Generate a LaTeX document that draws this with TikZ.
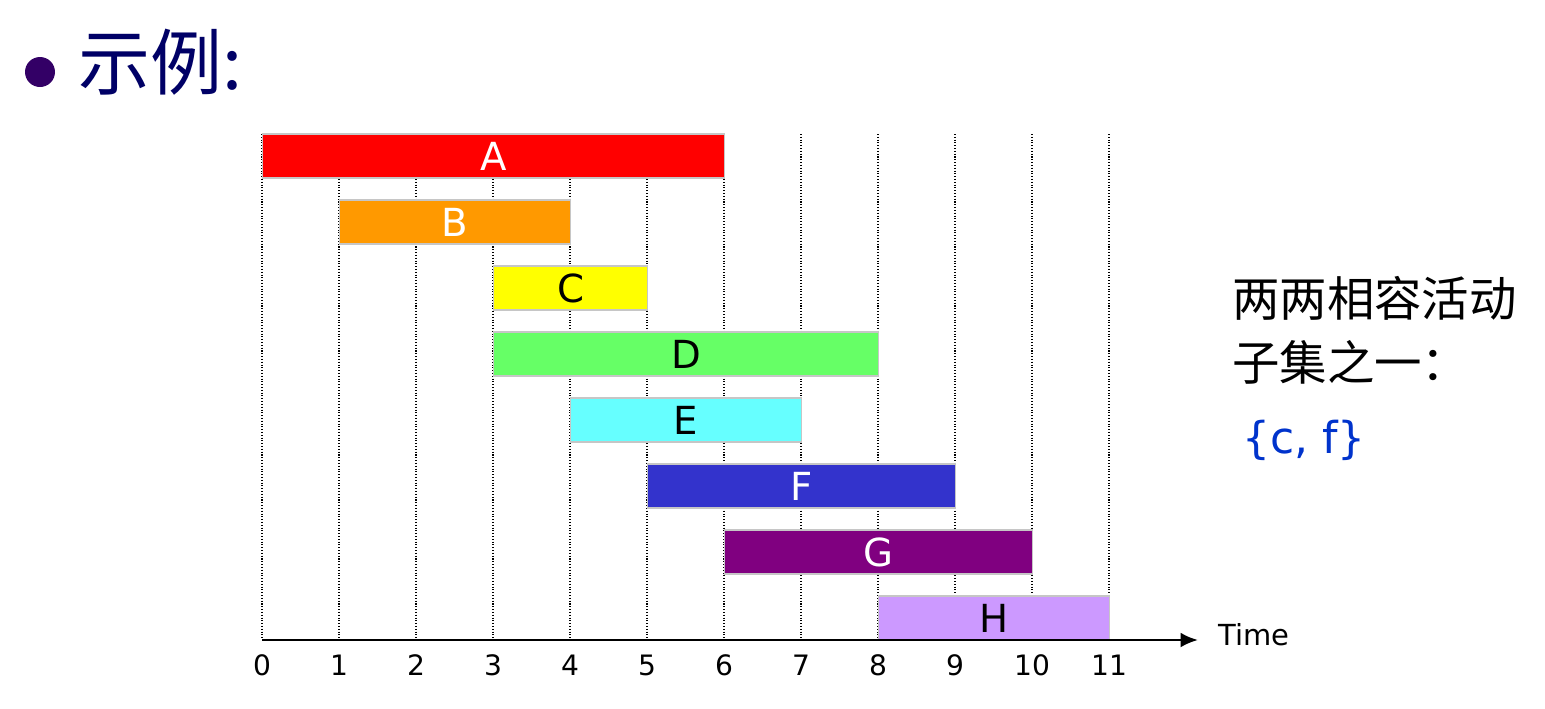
\documentclass[tikz,border=0pt]{standalone}
\usepackage{fontspec}
\setmainfont{DejaVu Sans}
\newfontfamily\cjk{Noto Sans CJK SC}
\usetikzlibrary{arrows.meta}
\definecolor{barA}{HTML}{FF0000}
\definecolor{barB}{HTML}{FF9900}
\definecolor{barC}{HTML}{FFFF00}
\definecolor{barD}{HTML}{66FF66}
\definecolor{barE}{HTML}{66FFFF}
\definecolor{barF}{HTML}{3333CC}
\definecolor{barG}{HTML}{800080}
\definecolor{barH}{HTML}{CC99FF}
\definecolor{titlecol}{HTML}{000066}
\definecolor{dotcol}{HTML}{330066}
\definecolor{setcol}{HTML}{0033CC}

\begin{document}
\begin{tikzpicture}[x=0.02cm, y=-0.02cm,
    bar/.style={draw=gray!45, line width=0.8pt, minimum height=0.88cm, inner sep=0pt, anchor=west, font=\fontsize{22}{22}\selectfont},
    grid line/.style={densely dotted, line width=0.6pt},
    tick label/.style={font=\fontsize{16}{16}\selectfont}]
    \useasboundingbox (0,0) rectangle (1545,708);
    % title
    \fill[dotcol] (40,72) circle (15);
    \node[anchor=west, text=titlecol, font=\cjk\fontsize{41}{41}\selectfont] (title) at (72,62) {示例:};
    % time grid
    \foreach \t in {0,...,11} {
      \draw[grid line] ({262+77*\t},134) -- ({262+77*\t},640);
      \node[tick label] (t\t) at ({262+77*\t},665) {\t};
    }
    % activities
    \foreach \s/\e/\row/\name/\col/\txt in {0/6/0/A/barA/white, 1/4/1/B/barB/white, 3/5/2/C/barC/black, 3/8/3/D/barD/black, 4/7/4/E/barE/black, 5/9/5/F/barF/white, 6/10/6/G/barG/white, 8/11/7/H/barH/black}
      \node[bar, fill=\col, text=\txt, minimum width={1.54cm*(\e-\s)}] (\name) at ({262+77*\s},{156+66*\row}) {\name};
    % axis
    \coordinate (o) at (262,640);
    \coordinate (tend) at (1198,640);
    \draw[line width=1.6pt, -{Latex[length=3.5mm,width=3mm]}] (o) -- (tend);
    \node[anchor=west, font=\fontsize{16.5}{16.5}\selectfont] (time) at (1212,635) {Time};
    % answer
    \node[anchor=west, font=\cjk\fontsize{27}{27}\selectfont] (line1) at (1226,298) {两两相容活动};
    \node[anchor=west, font=\cjk\fontsize{27}{27}\selectfont] (line2) at (1226,362) {子集之一：};
    \node[anchor=west, text=setcol, font=\fontsize{25}{25}\selectfont] (set) at (1236,440) {\{c, f\}};
\end{tikzpicture}
\end{document}
